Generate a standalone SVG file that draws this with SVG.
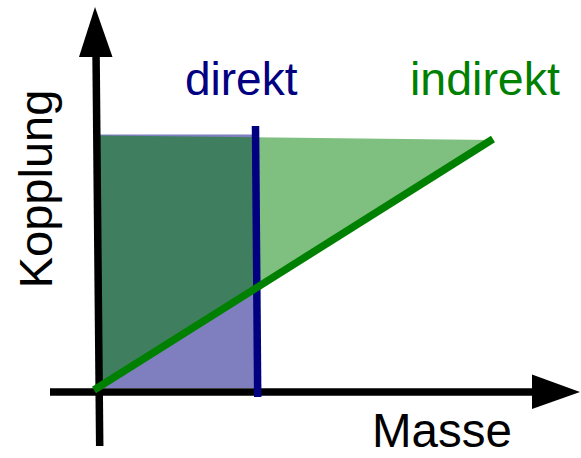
<svg xmlns="http://www.w3.org/2000/svg" width="581" height="458" viewBox="0 0 581 458">
<style>
.lbl{font-family:"Liberation Sans",Arial,sans-serif;font-size:46px}
.axis{stroke:#000;stroke-width:7.5;fill:none}
</style>
<rect width="581" height="458" fill="#fff"/>
<g id="areas">
<rect id="direct-area" x="100" y="134.5" width="156" height="253.5" fill="#000080" fill-opacity="0.5"/>
<polygon id="indirect-area" points="100,135.5 492,140 100,387" fill="#008000" fill-opacity="0.5"/>
</g>
<g id="connectors">
<line class="axis" x1="96" y1="50" x2="99.7" y2="446"/>
<polygon points="95,7 112.5,57 79,57" fill="#000"/>
<line class="axis" x1="50" y1="392" x2="535" y2="392"/>
<polygon points="532,374.5 580,392 532,409" fill="#000"/>
<line id="direkt-line" x1="255.5" y1="126" x2="257.7" y2="397" stroke="#000080" stroke-width="7.5"/>
<line id="indirekt-line" x1="94" y1="390" x2="493" y2="139" stroke="#008000" stroke-width="7.5"/>
</g>
<g id="labels">
<text class="lbl" x="185" y="95" fill="#000080">direkt</text>
<text class="lbl" x="410" y="95" fill="#008000" style="font-size:46.5px">indirekt</text>
<text class="lbl" x="372" y="447" fill="#000" style="font-size:47.5px">Masse</text>
<text class="lbl" transform="translate(52,189) rotate(-90)" text-anchor="middle" fill="#000" style="font-size:47px">Kopplung</text>
</g>
</svg>
